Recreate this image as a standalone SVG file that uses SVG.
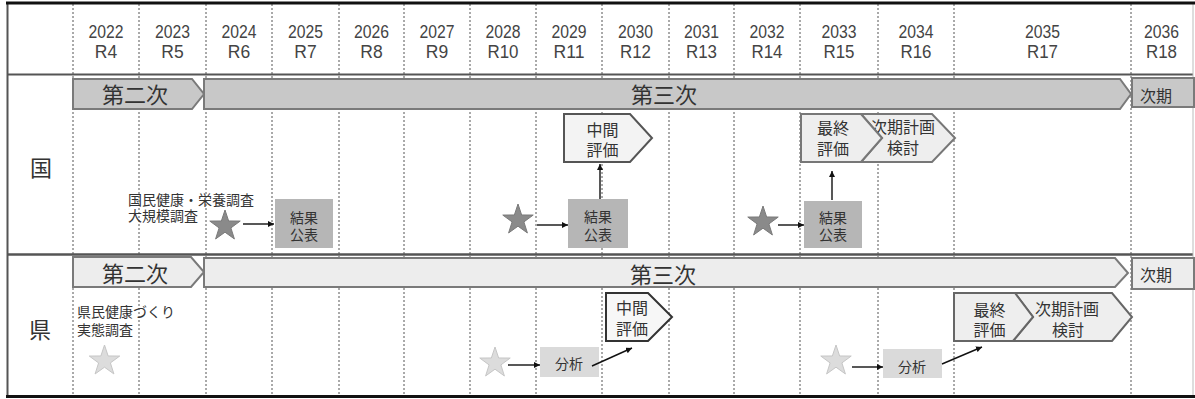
<svg xmlns="http://www.w3.org/2000/svg" xmlns:xlink="http://www.w3.org/1999/xlink" width="1195" height="399" viewBox="0 0 1195 399">
<style>
text{font-family:"Liberation Sans","Noto Sans CJK JP",sans-serif;fill:#333}
.yr{font-family:"Liberation Sans","Noto Sans CJK JP",sans-serif;font-size:17.5px;text-anchor:middle;fill:#444}
.grid{stroke:#555;stroke-width:1;stroke-dasharray:2 2;fill:none}
.barK{fill:#c8c8c8;stroke:#7a7a7a;stroke-width:2}
.barP{fill:#ededed;stroke:#7a7a7a;stroke-width:2}
.big{font-size:22px;text-anchor:middle}
.mid{font-size:16px;text-anchor:middle}
.sm{font-size:14px}
.smc{font-size:14px;text-anchor:middle}
.res{fill:#b6b6b6}
.ana{fill:#dadada}
.evalK{fill:#f3f3f3;stroke:#555;stroke-width:2}
.evalK2{fill:#eeeeee;stroke:#777;stroke-width:2}
.evalP{fill:#f7f7f7;stroke:#333;stroke-width:2}
.evalP2{fill:#eeeeee;stroke:#666;stroke-width:2}
.starD{fill:#8a8a8a;stroke:#7a7a7a;stroke-width:1}
.starL{fill:#dcdcdc;stroke:#c6c6c6;stroke-width:1}
.arr{stroke:#111;stroke-width:1.4;fill:none;marker-end:url(#ah)}
</style>
<defs>
<marker id="ah" viewBox="0 0 10 10" refX="10" refY="5" markerWidth="6" markerHeight="6" markerUnits="userSpaceOnUse" orient="auto">
<path d="M0,0 L10,5 L0,10 Z" fill="#111"/>
</marker>
<path id="star" d="M0,-16 L3.64,-5.02 L15.22,-4.94 L5.9,1.92 L9.4,12.94 L0,6.2 L-9.4,12.94 L-5.9,1.92 L-15.22,-4.94 L-3.64,-5.02 Z"/>
</defs>
<rect x="0" y="0" width="1195" height="399" fill="#fff"/>
<g id="grid">
<line class="grid" x1="73" y1="4" x2="73" y2="396"/>
<line class="grid" x1="139" y1="4" x2="139" y2="396"/>
<line class="grid" x1="206" y1="4" x2="206" y2="396"/>
<line class="grid" x1="272" y1="4" x2="272" y2="396"/>
<line class="grid" x1="339" y1="4" x2="339" y2="396"/>
<line class="grid" x1="404" y1="4" x2="404" y2="396"/>
<line class="grid" x1="470" y1="4" x2="470" y2="396"/>
<line class="grid" x1="536" y1="4" x2="536" y2="396"/>
<line class="grid" x1="602" y1="4" x2="602" y2="396"/>
<line class="grid" x1="669" y1="4" x2="669" y2="396"/>
<line class="grid" x1="734" y1="4" x2="734" y2="396"/>
<line class="grid" x1="800" y1="4" x2="800" y2="396"/>
<line class="grid" x1="878" y1="4" x2="878" y2="396"/>
<line class="grid" x1="954" y1="4" x2="954" y2="396"/>
<line class="grid" x1="1131" y1="4" x2="1131" y2="396"/>
<line x1="7" y1="74.5" x2="1193" y2="74.5" stroke="#555" stroke-width="2"/>
<line x1="7" y1="254.5" x2="1193" y2="254.5" stroke="#555" stroke-width="2.5"/>
<line x1="7.5" y1="3" x2="7.5" y2="397" stroke="#555" stroke-width="2"/>
<line x1="1193" y1="3" x2="1193" y2="397" stroke="#bbb" stroke-width="1"/>
<line x1="6" y1="3" x2="1195" y2="3" stroke="#111" stroke-width="3"/>
<line x1="6" y1="396.5" x2="1195" y2="396.5" stroke="#111" stroke-width="3"/>
</g>
<g id="header">
<text class="yr" x="106" y="37.5" textLength="35" lengthAdjust="spacingAndGlyphs">2022</text><text class="yr" x="106" y="57.5">R4</text>
<text class="yr" x="172.5" y="37.5" textLength="35" lengthAdjust="spacingAndGlyphs">2023</text><text class="yr" x="172.5" y="57.5">R5</text>
<text class="yr" x="239" y="37.5" textLength="35" lengthAdjust="spacingAndGlyphs">2024</text><text class="yr" x="239" y="57.5">R6</text>
<text class="yr" x="305.5" y="37.5" textLength="35" lengthAdjust="spacingAndGlyphs">2025</text><text class="yr" x="305.5" y="57.5">R7</text>
<text class="yr" x="371.5" y="37.5" textLength="35" lengthAdjust="spacingAndGlyphs">2026</text><text class="yr" x="371.5" y="57.5">R8</text>
<text class="yr" x="437" y="37.5" textLength="35" lengthAdjust="spacingAndGlyphs">2027</text><text class="yr" x="437" y="57.5">R9</text>
<text class="yr" x="503" y="37.5" textLength="35" lengthAdjust="spacingAndGlyphs">2028</text><text class="yr" x="503" y="57.5" textLength="31" lengthAdjust="spacingAndGlyphs">R10</text>
<text class="yr" x="569" y="37.5" textLength="35" lengthAdjust="spacingAndGlyphs">2029</text><text class="yr" x="569" y="57.5" textLength="31" lengthAdjust="spacingAndGlyphs">R11</text>
<text class="yr" x="635.5" y="37.5" textLength="35" lengthAdjust="spacingAndGlyphs">2030</text><text class="yr" x="635.5" y="57.5" textLength="31" lengthAdjust="spacingAndGlyphs">R12</text>
<text class="yr" x="701.5" y="37.5" textLength="35" lengthAdjust="spacingAndGlyphs">2031</text><text class="yr" x="701.5" y="57.5" textLength="31" lengthAdjust="spacingAndGlyphs">R13</text>
<text class="yr" x="767" y="37.5" textLength="35" lengthAdjust="spacingAndGlyphs">2032</text><text class="yr" x="767" y="57.5" textLength="31" lengthAdjust="spacingAndGlyphs">R14</text>
<text class="yr" x="839" y="37.5" textLength="35" lengthAdjust="spacingAndGlyphs">2033</text><text class="yr" x="839" y="57.5" textLength="31" lengthAdjust="spacingAndGlyphs">R15</text>
<text class="yr" x="916" y="37.5" textLength="35" lengthAdjust="spacingAndGlyphs">2034</text><text class="yr" x="916" y="57.5" textLength="31" lengthAdjust="spacingAndGlyphs">R16</text>
<text class="yr" x="1042.5" y="37.5" textLength="35" lengthAdjust="spacingAndGlyphs">2035</text><text class="yr" x="1042.5" y="57.5" textLength="31" lengthAdjust="spacingAndGlyphs">R17</text>
<text class="yr" x="1161.5" y="37.5" textLength="35" lengthAdjust="spacingAndGlyphs">2036</text><text class="yr" x="1161.5" y="57.5" textLength="31" lengthAdjust="spacingAndGlyphs">R18</text>
</g>
<g id="row-kuni">
<text class="big" x="41" y="176">国</text>
</g>
<g id="kuni-dainiji">
<polygon class="barK" points="73,79 192,79 204,94 192,109 73,109"/>
<text class="big" x="135" y="103">第二次</text>
</g>
<g id="kuni-daisanji">
<polygon class="barK" points="204,79 1120,79 1131,94 1120,109 204,109"/>
<text class="big" x="664" y="103">第三次</text>
</g>
<g id="kuni-jiki">
<rect class="barK" x="1132" y="78" width="62" height="29"/>
<text style="font-size:16px" x="1140" y="102">次期</text>
</g>
<g id="kuni-survey-label">
<text class="sm" x="128" y="205">国民健康・栄養調査<tspan x="128" dy="16">大規模調査</tspan></text>
</g>
<g id="kuni-star1"><use href="#star" class="starD" x="225" y="226"/></g>
<g id="kuni-res1">
<rect class="res" x="275" y="199" width="58" height="49"/>
<text class="smc" x="304" y="223">結果<tspan x="304" dy="17">公表</tspan></text>
</g>
<g id="kuni-star2"><use href="#star" class="starD" x="518" y="220"/></g>
<g id="kuni-res2">
<rect class="res" x="568" y="199" width="60" height="49"/>
<text class="smc" x="598" y="222">結果<tspan x="598" dy="18">公表</tspan></text>
</g>
<g id="kuni-chukan">
<polygon class="evalK" points="564,114 630,114 652,138 630,162 564,162"/>
<text class="mid" x="602.5" y="135.5">中間<tspan x="602.5" dy="20">評価</tspan></text>
</g>
<g id="kuni-star3"><use href="#star" class="starD" x="763" y="222"/></g>
<g id="kuni-res3">
<rect class="res" x="804" y="201" width="58" height="47"/>
<text class="smc" x="833" y="223">結果<tspan x="833" dy="17">公表</tspan></text>
</g>
<g id="kuni-jikikeikaku">
<polygon class="evalK2" points="861,114 932,114 955,138 932,162 861,162 882,138"/>
<text class="mid" x="903" y="133">次期計画<tspan x="903" dy="21">検討</tspan></text>
</g>
<g id="kuni-saishu">
<polygon class="evalK2" points="801,114 861,114 882,138 861,162 801,162"/>
<text class="mid" x="833" y="134">最終<tspan x="833" dy="20.5">評価</tspan></text>
</g>
<g id="row-ken">
<text class="big" x="40" y="338">県</text>
</g>
<g id="ken-dainiji">
<polygon class="barP" points="73,257 191,257 204,272 191,287 73,287"/>
<text class="big" x="135" y="282">第二次</text>
</g>
<g id="ken-daisanji">
<polygon class="barP" points="204,258 1115,258 1128,273 1115,287 204,287"/>
<text class="big" x="663" y="283">第三次</text>
</g>
<g id="ken-jiki">
<rect class="barP" x="1132" y="258" width="62" height="31"/>
<text style="font-size:16px" x="1140" y="281">次期</text>
</g>
<g id="ken-survey-label">
<text class="sm" x="77" y="317">県民健康づくり<tspan x="77" dy="18">実態調査</tspan></text>
</g>
<g id="ken-star1"><use href="#star" class="starL" x="104.5" y="361"/></g>
<g id="ken-star2"><use href="#star" class="starL" x="495" y="363"/></g>
<g id="ken-ana1">
<rect class="ana" x="540" y="347" width="59" height="30"/>
<text class="smc" x="569" y="369">分析</text>
</g>
<g id="ken-chukan">
<polygon class="evalP" points="606,293 648,293 672,317 648,341 606,341"/>
<text class="mid" x="632" y="314">中間<tspan x="632" dy="21">評価</tspan></text>
</g>
<g id="ken-star3"><use href="#star" class="starL" x="836" y="361"/></g>
<g id="ken-ana2">
<rect class="ana" x="883" y="349" width="59" height="29"/>
<text class="smc" x="912" y="372">分析</text>
</g>
<g id="ken-jikikeikaku">
<polygon class="evalP2" points="1015,293 1112,293 1132,317 1112,341 1013,341 1033,317"/>
<text class="mid" x="1067" y="314.5">次期計画<tspan x="1068" dy="21.5">検討</tspan></text>
</g>
<g id="ken-saishu">
<polygon class="evalP2" points="954,293 1015,293 1033,317 1013,341 954,341"/>
<text class="mid" x="989.5" y="316">最終<tspan x="989.5" dy="20">評価</tspan></text>
</g>
<g id="connectors">
<line class="arr" x1="243" y1="224" x2="274" y2="224"/>
<line class="arr" x1="537" y1="225" x2="568" y2="225"/>
<line class="arr" x1="778" y1="225" x2="804" y2="225"/>
<line class="arr" x1="600" y1="199" x2="600" y2="164"/>
<line class="arr" x1="832" y1="200" x2="832" y2="171"/>
<line class="arr" x1="508" y1="365" x2="540" y2="365"/>
<line class="arr" x1="592" y1="366" x2="632" y2="348"/>
<line class="arr" x1="852" y1="367" x2="883" y2="367"/>
<line class="arr" x1="942" y1="364" x2="982" y2="347"/>
</g>
</svg>
